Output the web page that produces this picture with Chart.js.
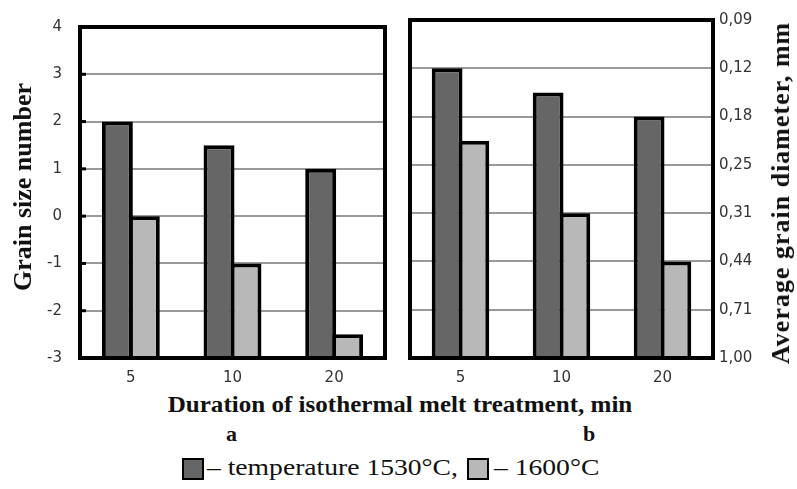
<!DOCTYPE html>
<html>
<head>
<meta charset="utf-8">
<script src="https://cdn.jsdelivr.net/npm/chart.js@4.4.1/dist/chart.umd.min.js"></script>
<style>
    body { margin: 0; background: #fff; }
    #wrap { position: relative; width: 797px; height: 489px; overflow: hidden; }
    canvas { position: absolute; top: 0; }
    .serif { position: absolute; font-family: "Liberation Serif", "Times New Roman", serif; color: #111; white-space: nowrap; }
    .bold { font-weight: bold; }
    .vtitle { transform: translate(-50%, -50%) rotate(-90deg); }
    .wide { transform-origin: left center; transform: scaleX(1.15); }
    .sw { position: absolute; width: 18px; height: 18px; border: 2px solid #000; }
</style>
</head>
<body>
<div id="wrap">
    <canvas id="chartA" width="395" height="392" style="left:0"></canvas>
    <canvas id="chartB" width="397" height="392" style="left:400px"></canvas>

    <div class="serif bold vtitle" style="left:23px; top:187px; font-size:26px;">Grain size number</div>
    <div class="serif bold vtitle" style="left:781px; top:193px; font-size:26px; letter-spacing:1px;">Average grain diameter, mm</div>

    <div class="serif bold" style="left:400px; top:392px; font-size:23px; transform: translateX(-50%) scaleX(1.09);">Duration of isothermal melt treatment, min</div>
    <div class="serif bold" style="left:226px; top:421px; font-size:22px;">a</div>
    <div class="serif bold" style="left:583px; top:421px; font-size:22px;">b</div>

    <div class="sw" style="left:182px; top:458px; background:#666"></div>
    <div class="serif wide" style="left:207px; top:454px; font-size:24px;">– temperature 1530°C,</div>
    <div class="sw" style="left:467px; top:458px; background:#b8b8b8"></div>
    <div class="serif wide" style="left:494px; top:454px; font-size:24px;">– 1600°C</div>
</div>

<script>
// durations, min
const durations = ['5', '10', '20'];

// grain size number, panel a
const a1530 = [2, 1.5, 1];
const a1600 = [0, -1, -2.5];

// grain size number, panel b
const b1530 = [3, 2.5, 2];
const b1600 = [1.5, 0, -1];

// right axis: average grain diameter for grain number -3 .. 4
const gradeTicks = [-3, -2, -1, 0, 1, 2, 3, 4];
const diameterLabels = ['1,00', '0,71', '0,44', '0,31', '0,25', '0,18', '0,12', '0,09'];

const darkGrey = '#666666';
const lightGrey = '#b8b8b8';
const tickFont = { family: 'DejaVu Sans', size: 15 };

// black frame round the plot area, with short ticks on the left side
const frame = {
    id: 'frame',
    afterDatasetsDraw(chart) {
        const c = chart.ctx, a = chart.chartArea;
        c.save();
        c.lineWidth = 4;
        c.strokeStyle = '#000';
        c.strokeRect(a.left, a.top, a.right - a.left, a.bottom - a.top);
        if (chart.options.scales.y.position === 'left') {
            const y = chart.scales.y;
            c.lineWidth = 3;
            gradeTicks.slice(1, -1).forEach(v => {
                const py = y.getPixelForValue(v);
                c.beginPath();
                c.moveTo(a.left, py);
                c.lineTo(a.left + 6, py);
                c.stroke();
            });
        }
        c.restore();
    }
};

function barSet(label, data, color) {
    return {
        label: label,
        data: data,
        base: -3,
        backgroundColor: color,
        borderColor: '#000',
        borderWidth: 4,
        borderSkipped: 'start',
        categoryPercentage: 0.53,
        barPercentage: 1.15
    };
}

function makeChart(id, s1530, s1600, right) {
    new Chart(document.getElementById(id), {
        type: 'bar',
        data: {
            labels: durations,
            datasets: [
                barSet('temperature 1530°C', s1530, darkGrey),
                barSet('1600°C', s1600, lightGrey)
            ]
        },
        options: {
            responsive: false,
            animation: false,
            devicePixelRatio: 1,
            layout: { padding: right ? { left: 10, top: 20 } : { right: 10, top: 20 } },
            plugins: { legend: { display: false }, tooltip: { enabled: false } },
            scales: {
                x: {
                    grid: { display: false, drawTicks: false },
                    border: { display: false },
                    ticks: { font: tickFont, color: '#333', padding: 11, maxRotation: 0 },
                    afterFit: (s) => { s.height = 34; }
                },
                y: {
                    position: right ? 'right' : 'left',
                    min: -3,
                    max: 4,
                    afterBuildTicks: (s) => { s.ticks = gradeTicks.map(v => ({ value: v })); },
                    grid: { color: '#999', lineWidth: 2, drawTicks: false },
                    border: { display: false },
                    ticks: {
                        font: tickFont,
                        color: '#333',
                        padding: right ? 6 : 18,
                        callback: (v) => right ? diameterLabels[gradeTicks.indexOf(v)] : String(v)
                    },
                    afterFit: (s) => { s.width = right ? 84 : 80; }
                }
            }
        },
        plugins: [frame]
    });
}

makeChart('chartA', a1530, a1600, false);
makeChart('chartB', b1530, b1600, true);
</script>
</body>
</html>
